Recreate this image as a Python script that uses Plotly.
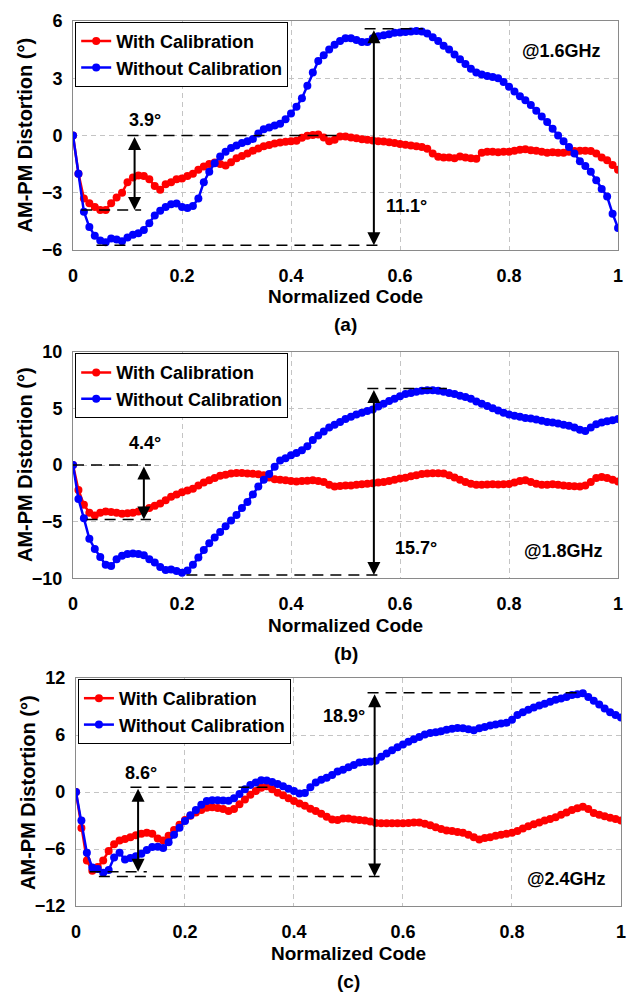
import plotly.graph_objects as go

# ---------------- data ----------------
code = [i / 100 for i in range(101)]

a_with = [0, -2.0, -3.3, -3.55, -3.75, -3.9, -3.9, -3.55, -3.25, -3.0,
          -2.45, -2.2, -2.1, -2.12, -2.3, -2.65, -2.85, -2.55, -2.45, -2.3,
          -2.25, -2.12, -2.0, -1.8, -1.62, -1.5, -1.42, -1.5, -1.58, -1.4,
          -1.2, -1.08, -0.95, -0.8, -0.68, -0.57, -0.5, -0.42, -0.37, -0.33,
          -0.3, -0.27, -0.12, -0.02, 0.03, 0.05, -0.1, -0.3, -0.22, -0.05,
          -0.05, -0.1, -0.15, -0.2, -0.22, -0.26, -0.3, -0.32, -0.36, -0.4,
          -0.45, -0.48, -0.52, -0.56, -0.6, -0.7, -0.95, -1.12, -1.15, -1.15,
          -1.2, -1.1, -1.15, -1.2, -1.22, -0.9, -0.85, -0.85, -0.88, -0.85,
          -0.85, -0.8, -0.75, -0.72, -0.78, -0.8, -0.85, -0.9, -0.88, -0.9,
          -0.9, -0.85, -0.82, -0.8, -0.8, -0.82, -0.95, -1.15, -1.3, -1.55,
          -1.8]
a_without = [0, -2.0, -4.0, -4.8, -5.25, -5.5, -5.6, -5.4, -5.45, -5.55,
             -5.35, -5.2, -5.13, -4.95, -4.6, -4.2, -3.95, -3.75, -3.6, -3.57,
             -3.75, -3.8, -3.7, -3.3, -2.45, -1.9, -1.45, -1.1, -0.85, -0.65,
             -0.52, -0.4, -0.3, -0.18, 0.1, 0.33, 0.42, 0.52, 0.62, 0.85,
             1.15, 1.5, 1.95, 2.6, 3.3, 3.9, 4.2, 4.5, 4.75, 4.95,
             5.1, 5.1, 5.0, 4.9, 4.9, 5.1, 5.2, 5.25, 5.3, 5.38,
             5.4, 5.42, 5.45, 5.48, 5.45, 5.35, 5.15, 4.95, 4.7, 4.5,
             4.25, 4.0, 3.75, 3.5, 3.3, 3.2, 3.12, 3.07, 3.0, 2.8,
             2.55, 2.3, 2.05, 1.85, 1.6, 1.3, 1.0, 0.7, 0.35, 0.0,
             -0.3, -0.6, -0.95, -1.35, -1.6, -1.9, -2.35, -2.8, -3.2, -4.1,
             -4.85]

b_with = [0, -2.2, -3.5, -4.2, -4.45, -4.2, -4.1, -4.15, -4.2, -4.3,
          -4.25, -4.2, -4.1, -4.0, -3.8, -3.6, -3.4, -3.1, -2.8, -2.6,
          -2.4, -2.25, -2.1, -1.8, -1.55, -1.35, -1.15, -0.95, -0.85, -0.75,
          -0.7, -0.7, -0.75, -0.78, -0.82, -0.9, -1.1, -1.25, -1.3, -1.35,
          -1.4, -1.45, -1.42, -1.38, -1.35, -1.4, -1.5, -1.75, -1.9, -1.85,
          -1.8, -1.8, -1.75, -1.7, -1.65, -1.6, -1.55, -1.5, -1.4, -1.3,
          -1.2, -1.12, -1.0, -0.9, -0.8, -0.75, -0.72, -0.72, -0.75, -0.9,
          -1.1, -1.3, -1.5, -1.65, -1.75, -1.75, -1.72, -1.7, -1.72, -1.7,
          -1.68, -1.55, -1.4, -1.35, -1.5, -1.65, -1.75, -1.75, -1.7, -1.75,
          -1.8, -1.85, -1.88, -1.9, -1.8, -1.5, -1.15, -1.05, -1.15, -1.3,
          -1.45]
b_without = [0, -3.0, -4.7, -6.5, -7.4, -8.1, -8.8, -8.9, -8.3, -8.0,
             -7.85, -7.8, -7.85, -7.95, -8.3, -8.6, -9.0, -9.25, -9.2, -9.35,
             -9.5, -9.3, -8.8, -8.15, -7.5, -6.9, -6.4, -5.9, -5.4, -4.9,
             -4.4, -3.8, -3.25, -2.6, -1.9, -1.3, -0.8, -0.15, 0.4, 0.6,
             0.85, 1.05, 1.3, 1.65, 2.2, 2.6, 2.95, 3.3, 3.55, 3.8,
             4.05, 4.25, 4.45, 4.6, 4.75, 4.9, 5.15, 5.4, 5.65, 5.85,
             6.05, 6.25, 6.35, 6.45, 6.55, 6.6, 6.6, 6.55, 6.45, 6.35,
             6.25, 6.1, 6.0, 5.85, 5.6, 5.4, 5.2, 5.0, 4.8, 4.6,
             4.45, 4.35, 4.25, 4.15, 4.1, 4.0, 3.9, 3.8, 3.75, 3.65,
             3.55, 3.45, 3.3, 3.1, 3.0, 3.3, 3.6, 3.75, 3.85, 3.95,
             4.05]

c_with = [0, -3.8, -7.2, -8.3, -7.9, -7.2, -6.2, -5.5, -5.1, -4.95,
          -4.75, -4.55, -4.4, -4.3, -4.4, -4.9, -5.1, -4.6, -4.0, -3.45,
          -2.95, -2.5, -2.15, -1.9, -1.65, -1.6, -1.68, -1.8, -2.0, -1.8,
          -1.3, -0.8, -0.3, 0.1, 0.45, 0.6, 0.3, -0.07, -0.35, -0.65,
          -0.95, -1.2, -1.45, -1.75, -2.0, -2.3, -2.6, -2.9, -2.95, -2.8,
          -2.8, -2.9, -2.95, -3.0, -3.1, -3.25, -3.3, -3.3, -3.3, -3.28,
          -3.3, -3.25, -3.2, -3.2, -3.35, -3.5, -3.7, -3.9, -4.05, -4.1,
          -4.2, -4.3, -4.5, -4.75, -5.0, -4.85, -4.75, -4.6, -4.5, -4.4,
          -4.3, -4.1, -3.85, -3.6, -3.4, -3.2, -3.0, -2.85, -2.65, -2.4,
          -2.15, -1.9, -1.7, -1.55, -1.8, -2.2, -2.4, -2.55, -2.7, -2.85,
          -3.0]
c_without = [0, -3.0, -6.4, -7.95, -8.1, -8.5, -8.2, -6.9, -6.4, -7.1,
             -6.95, -6.75, -6.5, -6.1, -5.8, -5.75, -5.9, -5.3, -4.5, -3.75,
             -3.05, -2.45, -1.9, -1.35, -0.95, -0.88, -0.86, -0.9, -0.92, -0.65,
             -0.2, 0.3, 0.75, 1.0, 1.25, 1.2, 1.05, 0.85, 0.6, 0.35,
             0.1, -0.15, -0.1, 0.5, 1.0, 1.3, 1.5, 1.8, 2.15, 2.35,
             2.6, 2.85, 3.1, 3.15, 3.2, 3.3, 3.7, 4.05, 4.4, 4.7,
             5.0, 5.3, 5.55, 5.8, 6.05, 6.2, 6.3, 6.4, 6.55, 6.65,
             6.75, 6.7, 6.6, 6.5, 6.7, 6.85, 7.0, 7.1, 7.2, 7.3,
             7.6, 8.1, 8.4, 8.65, 8.9, 9.1, 9.3, 9.5, 9.7, 9.85,
             10.0, 10.2, 10.3, 10.4, 10.0, 9.6, 9.2, 8.8, 8.4, 8.1,
             7.85]

x_ticks = [0, 0.2, 0.4, 0.6, 0.8, 1]
x_ticktext = ["0", "0.2", "0.4", "0.6", "0.8", "1"]
y_ranges = [[-6, 6], [-10, 10], [-12, 12]]
y_dticks = [3, 5, 6]
freq_labels = ["@1.6GHz", "@1.8GHz", "@2.4GHz"]
panel_labels = ["(a)", "(b)", "(c)"]
series_names = ["With Calibration", "Without Calibration"]

# annotation values (degrees)
small_span = [(0.0, -3.9, "3.9°"), (0.0, -4.8, "4.4°"), (0.5, -8.4, "8.6°")]
big_span = [(5.6, -5.75, "11.1°"), (6.75, -9.7, "15.7°"), (10.45, -8.9, "18.9°")]

# ---------------- figure ----------------
FONT = "Liberation Sans, Arial, Helvetica, sans-serif"
RED = "#ff0000"
BLUE = "#0000ff"

fig = go.Figure()
panels = [(a_with, a_without), (b_with, b_without), (c_with, c_without)]
ydomains = [[0.7413, 1.0], [0.3701, 0.6265], [0.0, 0.2576]]
xdomains = [[0.0, 0.9946], [0.0, 0.9946], [0.0054, 1.0]]
legend_pos = [(0.004, 0.999), (0.004, 0.6246), (0.009, 0.2565)]

for i, (w, wo) in enumerate(panels):
    n = "" if i == 0 else str(i + 1)
    lg = "legend" if i == 0 else f"legend{i + 1}"
    for vals, col, name in ((w, RED, series_names[0]), (wo, BLUE, series_names[1])):
        fig.add_trace(go.Scatter(
            x=code, y=vals, mode="lines+markers", name=name,
            line=dict(color=col, width=2.5), marker=dict(color=col, size=8),
            xaxis="x" + n, yaxis="y" + n, legend=lg))

layout = dict(
    width=637, height=997,
    margin=dict(l=73, r=11, t=17, b=91),
    plot_bgcolor="white", paper_bgcolor="white",
    font=dict(family=FONT, size=18, color="black", weight="bold"),
    showlegend=True,
)

for i in range(3):
    n = "" if i == 0 else str(i + 1)
    layout["xaxis" + n] = dict(
        domain=xdomains[i], anchor="y" + n, range=[0, 1],
        tickvals=x_ticks, ticktext=x_ticktext,
        showgrid=True, gridcolor="#c4c4c4", griddash="5px,4px", gridwidth=1,
        showline=True, linecolor="#8a8a8a", linewidth=1, mirror=True,
        zeroline=False, ticks="outside", ticklen=9, tickcolor="rgba(0,0,0,0)",
        tickfont=dict(size=18))
    layout["yaxis" + n] = dict(
        domain=ydomains[i], anchor="x" + n, range=y_ranges[i],
        dtick=y_dticks[i], tick0=0,
        showgrid=True, gridcolor="#c4c4c4", griddash="5px,4px", gridwidth=1,
        showline=True, linecolor="#8a8a8a", linewidth=1, mirror=True,
        zeroline=False, ticks="outside", ticklen=6, tickcolor="rgba(0,0,0,0)",
        tickfont=dict(size=18))
    lx, ly = legend_pos[i]
    layout["legend" if i == 0 else f"legend{i + 1}"] = dict(
        x=lx, y=ly, xanchor="left", yanchor="top",
        bgcolor="white", bordercolor="black", borderwidth=1,
        font=dict(size=18, family=FONT, weight="bold"),
        tracegroupgap=0, itemwidth=30)

fig.update_layout(**layout)

shapes = []
annotations = []
DASH = "11px,7px"
small_x = [0.113, 0.13, 0.114]
small_dash = [((0.1, 0.49), (0.015, 0.125)), ((0.0, 0.143), (0.025, 0.143)), ((0.1, 0.364), (0.025, 0.13))]
big_x = [0.552, 0.552, 0.548]
big_dash = [((0.535, 0.642), (0.043, 0.562)), ((0.54, 0.686), (0.208, 0.562)), ((0.535, 0.928), (0.042, 0.557))]
small_text_pos = [(0.132, 0.8), (0.132, 1.9), (0.12, 2.0)]
big_text_pos = [(0.612, -3.7), (0.63, -7.35), (0.492, 7.95)]
freq_pos = [(0.897, 4.45), (0.9, -7.6), (0.9, -9.2)]

for i in range(3):
    n = "" if i == 0 else str(i + 1)
    xr, yr = "x" + n, "y" + n
    top_s, bot_s, txt_s = small_span[i]
    top_b, bot_b, txt_b = big_span[i]
    (sx0, sx1), (sbx0, sbx1) = small_dash[i]
    (bx0, bx1), (bbx0, bbx1) = big_dash[i]
    for (x0, x1, yv) in ((sx0, sx1, top_s), (sbx0, sbx1, bot_s), (bx0, bx1, top_b), (bbx0, bbx1, bot_b)):
        shapes.append(dict(type="line", xref=xr, yref=yr, x0=x0, x1=x1, y0=yv, y1=yv,
                           line=dict(color="black", width=1.5, dash=DASH)))
    for (xa, y0, y1) in ((small_x[i], top_s, bot_s), (big_x[i], top_b, bot_b)):
        annotations.append(dict(xref=xr, yref=yr, axref=xr, ayref=yr,
                                x=xa, y=y1, ax=xa, ay=y0, text="", showarrow=True,
                                arrowhead=2, startarrowhead=2, arrowside="end+start",
                                arrowsize=1.3, startarrowsize=1.3, arrowwidth=2,
                                arrowcolor="black"))
    for (tx, ty, t) in ((small_text_pos[i][0], small_text_pos[i][1], txt_s),
                        (big_text_pos[i][0], big_text_pos[i][1], txt_b),
                        (freq_pos[i][0], freq_pos[i][1], freq_labels[i])):
        annotations.append(dict(xref=xr, yref=yr, x=tx, y=ty, text=t, showarrow=False,
                                font=dict(size=18, family=FONT, weight="bold")))
    # axis titles
    annotations.append(dict(xref=xr + " domain", yref=yr + " domain", x=0.5, y=0,
                            yshift=-47, yanchor="middle", text="Normalized Code",
                            showarrow=False, font=dict(size=19, family=FONT, weight="bold")))
    annotations.append(dict(xref=xr + " domain", yref=yr + " domain", x=0.5, y=0,
                            yshift=-75, yanchor="middle", text=panel_labels[i],
                            showarrow=False, font=dict(size=19, family=FONT, weight="bold")))
    annotations.append(dict(xref=xr + " domain", yref=yr + " domain", x=0, y=0.5,
                            xshift=-48, xanchor="center", yanchor="middle", textangle=-90,
                            text="AM-PM Distortion (°)", showarrow=False,
                            font=dict(size=20, family=FONT, weight="bold")))

fig.update_layout(shapes=shapes, annotations=annotations)
fig.write_html("out.html",
               config={"displayModeBar": False},
               post_script="document.body.style.margin='0px';document.body.style.padding='0px';")
